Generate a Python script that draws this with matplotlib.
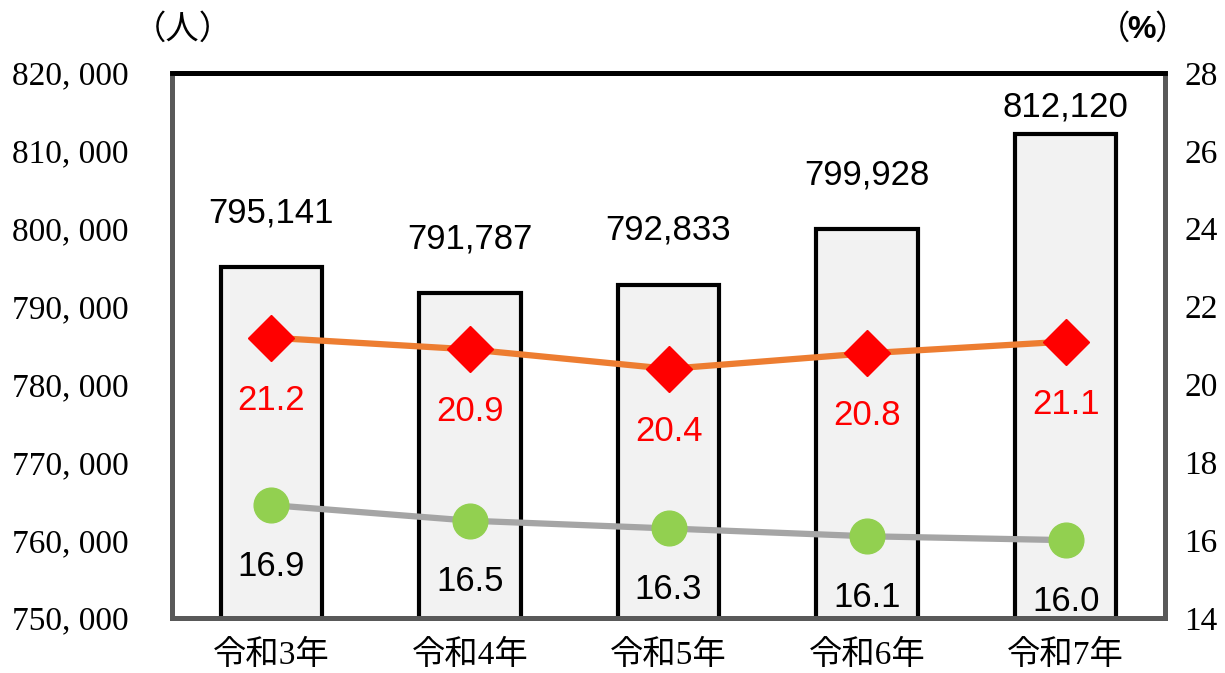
import matplotlib
matplotlib.use("Agg")
import matplotlib.pyplot as plt
from matplotlib.ticker import FuncFormatter

plt.rcParams['font.family'] = ['Liberation Serif', 'Noto Sans CJK JP']

years = ['令和3年', '令和4年', '令和5年', '令和6年', '令和7年']
people = [795141, 791787, 792833, 799928, 812120]
rate_red = [21.2, 20.9, 20.4, 20.8, 21.1]
rate_green = [16.9, 16.5, 16.3, 16.1, 16.0]

fig = plt.figure(figsize=(12.25, 6.73), dpi=100)
ax = fig.add_axes([172 / 1225, 1 - 618 / 673, (1165 - 172) / 1225, (618 - 73) / 673])
ax2 = ax.twinx()

x = list(range(len(years)))
ax.bar(x, people, width=0.51, color='#f2f2f2', edgecolor='black', linewidth=3, zorder=2)
ax.set_xlim(-0.5, len(years) - 0.5)
ax.set_ylim(750000, 820000)
ax.set_yticks(range(750000, 820001, 10000))
ax.yaxis.set_major_formatter(FuncFormatter(lambda v, p: f"{int(v):,}".replace(',', ', ')))
ax.set_xticks(x)
ax.set_xticklabels(years, fontsize=24)
ax.tick_params(axis='y', length=0, labelsize=24, pad=31)
ax.tick_params(axis='x', length=0, pad=16)

# bar value labels; the tallest one is pushed down so it stays inside the frame
for xi, v in zip(x, people):
    ax.text(xi, min(v + 6940, 815650), f"{v:,}", ha='center', va='center',
            fontsize=25, family='Liberation Sans', zorder=5)

ax2.set_ylim(14, 28)
ax2.set_yticks(range(14, 29, 2))
ax2.tick_params(axis='y', length=0, labelsize=24, pad=14)
ax2.plot(x, rate_red, color='#ed7d31', lw=4.5, marker='D', ms=23, mfc='#ff0000', mec='#ff0000', zorder=3)
ax2.plot(x, rate_green, color='#a5a5a5', lw=4.5, marker='o', ms=25, mfc='#92d050', mec='#92d050', zorder=3)
for xi, v in zip(x, rate_red):
    ax2.annotate(f"{v:.1f}", (xi, v), xytext=(0, -45), textcoords='offset points',
                 ha='center', va='center', fontsize=25, color='#ff0000', family='Liberation Sans')
for xi, v in zip(x, rate_green):
    ax2.annotate(f"{v:.1f}", (xi, v), xytext=(0, -44), textcoords='offset points',
                 ha='center', va='center', fontsize=25, color='black', family='Liberation Sans')

for a in (ax, ax2):
    for side in ('left', 'right', 'bottom'):
        a.spines[side].set_color('#595959')
        a.spines[side].set_linewidth(3.5)
    a.spines['top'].set_color('black')
    a.spines['top'].set_linewidth(3.5)

fig.text(183 / 1225, 1 - 30 / 673, '（人）', ha='center', va='center', fontsize=24)
fig.text(1130 / 1225, 1 - 30 / 673, '（', ha='right', va='center', fontsize=24)
fig.text(1142 / 1225, 1 - 30 / 673, '%', ha='center', va='center', fontsize=23,
         family='Liberation Sans', weight='bold')
fig.text(1154 / 1225, 1 - 30 / 673, '）', ha='left', va='center', fontsize=24)

fig.savefig('out.png', dpi=100)
